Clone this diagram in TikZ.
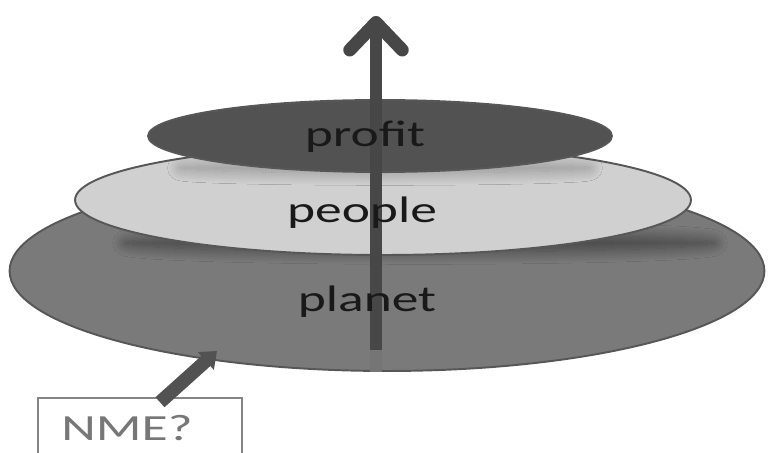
\documentclass[tikz,border=0pt]{standalone}
\usepackage{fontspec}
\setmainfont{Carlito}
\newfontfamily\largefont[FakeStretch=1.45]{Carlito}
\usetikzlibrary{shapes.geometric,arrows.meta,shadows.blur}

\definecolor{grisplanet}{HTML}{7A7A7A}
\definecolor{grispeople}{HTML}{D0D0D0}
\definecolor{grisprofit}{HTML}{525252}
\definecolor{grisbord}{HTML}{575757}
\definecolor{grisfleche}{HTML}{474747}
\definecolor{grisnme}{HTML}{777777}

\tikzset{
  disque/.style={ellipse, draw=grisbord, line width=1.1pt, inner sep=0pt},
  etiquette/.style={anchor=base, text=black!90, font=\largefont\fontsize{21}{25}\selectfont},
  ombre/.style={blur shadow={shadow xshift=0pt, shadow yshift=0pt, shadow blur radius=7pt, shadow blur steps=25, shadow opacity=#1}},
}

\begin{document}
\begin{tikzpicture}[x=0.02cm,y=-0.02cm]

\useasboundingbox (0,0) rectangle (769,453);

% Disque du bas
\node[disque, fill=grisplanet, minimum width=15.1cm, minimum height=4cm] (planet) at (387,271) {};

% Ombre sous le disque du milieu
\path[ombre=45] (420,243) ellipse [x radius=5.9cm, y radius=0.18cm];

% Disque du milieu
\node[disque, fill=grispeople, minimum width=12.32cm, minimum height=2.2cm] (people) at (383,200) {};

% Ombre sous le disque du haut
\path[ombre=30] (385,168) ellipse [x radius=4.1cm, y radius=0.1cm];

% Disque du haut
\node[disque, fill=grisprofit, minimum width=9.28cm, minimum height=1.44cm] (profit) at (380,136) {};

% Grande fleche verticale
\coordinate (pied) at (376,372);
\coordinate (depart) at (376,350);
\coordinate (sommet) at (376,16);
\draw[line width=0.26cm, grisfleche!75] (pied) -- (depart);
\draw[line width=0.26cm, grisfleche, -{Straight Barb[length=0.55cm, width=1.05cm, round]}] (depart) -- (sommet);

% Textes
\node[etiquette] (tprofit) at (365,147) {profit};
\node[etiquette] (tpeople) at (362,222) {people};
\node[etiquette] (tplanet) at (367,312) {planet};

% Boite NME
\node[draw=grisnme!90, line width=0.9pt, minimum width=4.08cm, minimum height=1.6cm, inner sep=0pt] (nmebox) at (140,438) {};
\node[etiquette, text=grisnme] (nme) at (127,440) {NME?};

\coordinate (nmetip) at (217,351);
\draw[line width=0.27cm, grisprofit, -{Triangle[length=0.3cm, width=0.46cm]}] ([xshift=0.4cm,yshift=-0.1cm]nmebox.north) -- (nmetip);

\end{tikzpicture}
\end{document}
